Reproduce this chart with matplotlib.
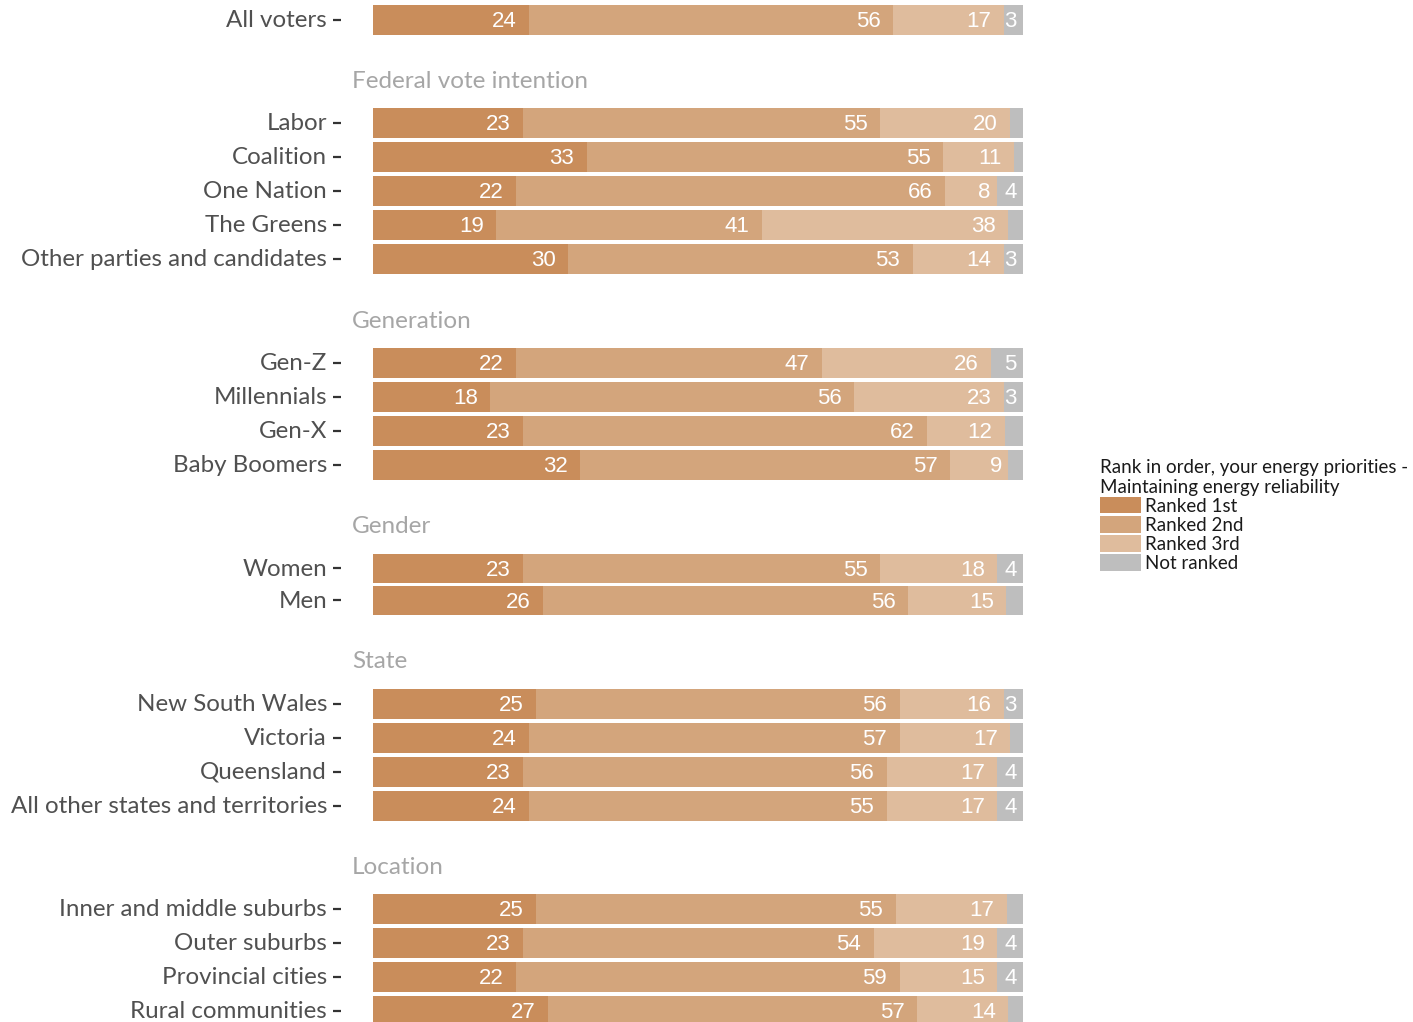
import matplotlib
matplotlib.use("Agg")
import matplotlib.pyplot as plt
from matplotlib import transforms
from matplotlib.patches import Patch

# ---------------- data ----------------
groups = ["", "Federal vote intention", "Generation", "Gender", "State", "Location"]
group_rows = [
    ["All voters"],
    ["Labor", "Coalition", "One Nation", "The Greens", "Other parties and candidates"],
    ["Gen-Z", "Millennials", "Gen-X", "Baby Boomers"],
    ["Women", "Men"],
    ["New South Wales", "Victoria", "Queensland", "All other states and territories"],
    ["Inner and middle suburbs", "Outer suburbs", "Provincial cities", "Rural communities"],
]
ranked_1st = [24, 23, 33, 22, 19, 30, 22, 18, 23, 32, 23, 26, 25, 24, 23, 24, 25, 23, 22, 27]
ranked_2nd = [56, 55, 55, 66, 41, 53, 47, 56, 62, 57, 55, 56, 56, 57, 56, 55, 55, 54, 59, 57]
ranked_3rd = [17, 20, 11, 8, 38, 14, 26, 23, 12, 9, 18, 15, 16, 17, 17, 17, 17, 19, 15, 14]
not_ranked = [3, 2.0, 1.4, 4, 2.3, 3, 5, 3, 2.8, 2.3, 4, 2.6, 3, 2.0, 4, 4, 2.5, 4, 4, 2.3]
series_names = ["Ranked 1st", "Ranked 2nd", "Ranked 3rd", "Not ranked"]
legend_title = "Rank in order, your energy priorities -\nMaintaining energy reliability"

colors = ["#C98D5B", "#D3A57C", "#DFBC9D", "#BEBEBE"]
label_color = "#505050"
header_color = "#A6A6A6"
main_font = ["Lato", "DejaVu Sans"]

# ---------------- layout (pixel coordinates) ----------------
W, H = 1413, 1022
fig = plt.figure(figsize=(W / 100, H / 100), dpi=100)
px_left, px_right = 341, 1055
ax = fig.add_axes([px_left / W, 0, (px_right - px_left) / W, 1])
pad = 32 / 6.5
ax.set_xlim(-pad, 100 + pad)
ax.set_ylim(H, 0)
for s in ax.spines.values():
    s.set_visible(False)
ax.set_xticks([])

# compute row positions
ypos = []
headers = []
heights = []
y = 20
prev_last = y
for gi, rows in enumerate(group_rows):
    spacing = 32 if groups[gi] == "Gender" else 34
    if gi > 0:
        hy = prev_last + 59.5
        headers.append((groups[gi], hy))
        y = hy + 44
    for r in rows:
        ypos.append(y)
        heights.append(29 if groups[gi] == "Gender" else 30)
        prev_last = y
        y += spacing

labels = [r for rows in group_rows for r in rows]
series = [ranked_1st, ranked_2nd, ranked_3rd, not_ranked]
n = len(labels)
scale = [100.0 / sum(s[i] for s in series) for i in range(n)]

left = [0.0] * n
fs_num = 16
for si, vals in enumerate(series):
    widths = [vals[i] * scale[i] for i in range(n)]
    ax.barh(ypos, widths, left=left, height=heights, color=colors[si], linewidth=0)
    for i in range(n):
        right_edge = left[i] + widths[i]
        if vals[i] >= 3:
            txt = str(int(round(vals[i])))
            off = transforms.offset_copy(ax.transData, fig=fig,
                                         x=-0.278 * len(txt) * fs_num, y=0, units="points")
            ax.text(right_edge, ypos[i] + 1.5, txt, transform=off, ha="right", va="center",
                    color="white", fontsize=fs_num, family=["Liberation Sans", "DejaVu Sans"])
    left = [left[i] + widths[i] for i in range(n)]

ax.set_yticks(ypos)
ax.set_yticklabels(labels, fontsize=17.4, color=label_color, family=main_font)
ax.tick_params(axis="y", length=6, width=1.6, color="#333333", pad=4)
shift = transforms.ScaledTranslation(0, 1.5 / 100, fig.dpi_scale_trans)
for lab in ax.get_yticklabels():
    lab.set_transform(lab.get_transform() + shift)

for name, hy in headers:
    ax.text(-pad + 11 / 6.5, hy + 2, name, ha="left", va="center", fontsize=17.5,
            color=header_color, family=main_font)

handles = [Patch(facecolor=c, edgecolor="none", label=l) for c, l in zip(colors, series_names)]
leg = fig.legend(handles=handles, title=legend_title, loc="upper left",
                 bbox_to_anchor=(1100 / W, 1 - 459 / H), frameon=False,
                 prop={"family": main_font, "size": 13.5},
                 title_fontproperties={"family": main_font, "size": 13.5},
                 handlelength=2.2, handleheight=0.95, handletextpad=0.2,
                 labelspacing=0.08, borderaxespad=0, borderpad=0)
leg._legend_box.align = "left"
for t in leg.get_texts():
    t.set_color("#1A1A1A")
leg.get_title().set_color("#1A1A1A")

fig.savefig("out.png", dpi=100)
